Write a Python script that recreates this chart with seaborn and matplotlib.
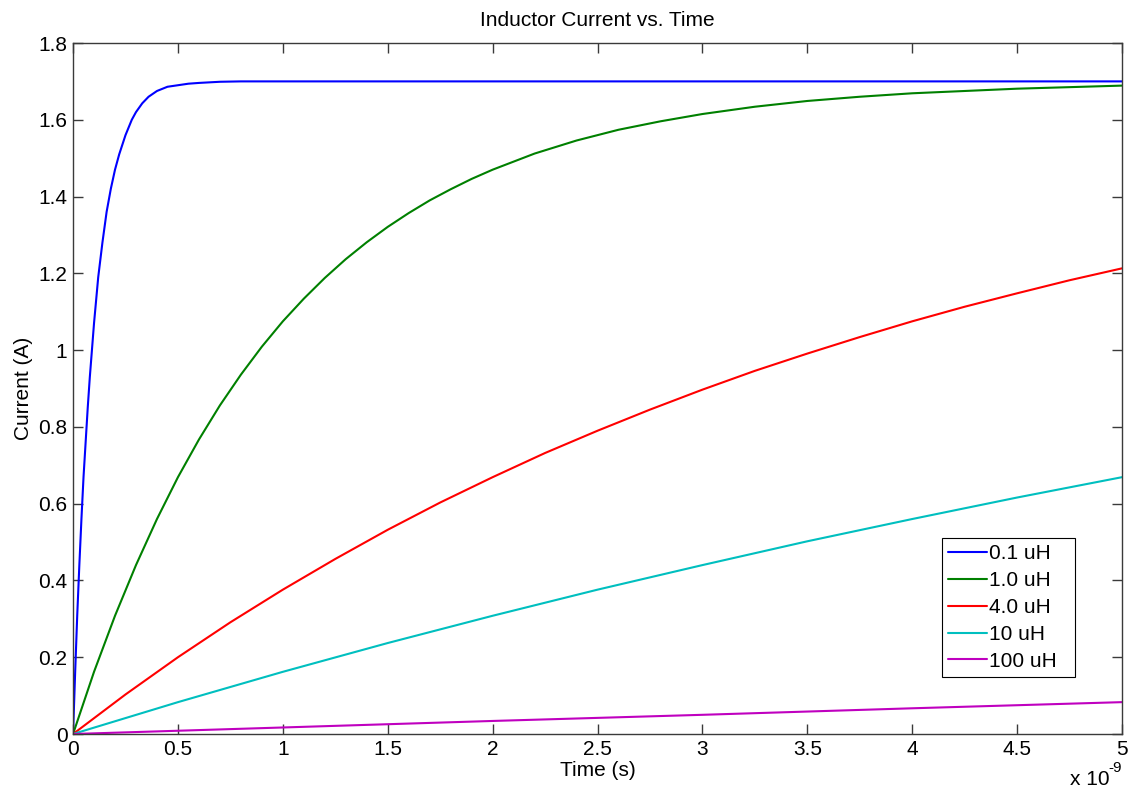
import numpy as np
import pandas as pd
import matplotlib
matplotlib.use("Agg")
import matplotlib.pyplot as plt
import seaborn as sns
from matplotlib.ticker import FuncFormatter, MultipleLocator

# Data (time in ns, current in A)
labels = ["0.1 uH", "1.0 uH", "4.0 uH", "10 uH", "100 uH"]
colors = ["#0000ff", "#008000", "#ff0000", "#00bfbf", "#bf00bf"]

t_01 = [0, 0.01, 0.02, 0.03, 0.04, 0.05, 0.06, 0.07, 0.08, 0.09, 0.1, 0.12, 0.14, 0.16,
        0.18, 0.2, 0.22, 0.25, 0.28, 0.3, 0.33, 0.36, 0.4, 0.45, 0.5, 0.55, 0.6, 0.7,
        0.8, 1.0, 2.0, 3.0, 4.0, 5.0]
i_01 = [0, 0.16, 0.31, 0.44, 0.56, 0.67, 0.76, 0.85, 0.93, 1.00, 1.07, 1.19, 1.28, 1.36,
        1.42, 1.47, 1.51, 1.56, 1.60, 1.62, 1.643, 1.66, 1.675, 1.686, 1.69, 1.694, 1.696, 1.699,
        1.70, 1.70, 1.70, 1.70, 1.70, 1.70]

t_1 = [0, 0.1, 0.2, 0.3, 0.4, 0.5, 0.6, 0.7, 0.8, 0.9, 1.0, 1.1, 1.2, 1.3, 1.4, 1.5,
       1.6, 1.7, 1.8, 1.9, 2.0, 2.2, 2.4, 2.6, 2.8, 3.0, 3.25, 3.5, 3.75, 4.0, 4.5, 5.0]
i_1 = [0, 0.162, 0.308, 0.440, 0.560, 0.669, 0.767, 0.856, 0.936, 1.009, 1.075, 1.134,
       1.188, 1.237, 1.281, 1.321, 1.357, 1.390, 1.419, 1.446, 1.470, 1.512, 1.546, 1.574,
       1.596, 1.615, 1.634, 1.649, 1.660, 1.669, 1.681, 1.689]

t_4 = [0, 0.25, 0.5, 0.75, 1.0, 1.25, 1.5, 1.75, 2.0, 2.25, 2.5, 2.75, 3.0, 3.25, 3.5,
       3.75, 4.0, 4.25, 4.5, 4.75, 5.0]
i_4 = [0, 0.103, 0.200, 0.291, 0.376, 0.456, 0.532, 0.603, 0.669, 0.732, 0.790, 0.845,
       0.897, 0.946, 0.991, 1.034, 1.075, 1.113, 1.148, 1.182, 1.213]

t_10 = [0, 0.5, 1.0, 1.5, 2.0, 2.5, 3.0, 3.5, 4.0, 4.5, 5.0]
i_10 = [0, 0.083, 0.162, 0.237, 0.308, 0.376, 0.44, 0.502, 0.56, 0.616, 0.669]

t_100 = [0, 1.0, 2.0, 3.0, 4.0, 5.0]
i_100 = [0, 0.017, 0.034, 0.050, 0.067, 0.083]

series = [(t_01, i_01), (t_1, i_1), (t_4, i_4), (t_10, i_10), (t_100, i_100)]
frames = []
for lab, (t, i) in zip(labels, series):
    frames.append(pd.DataFrame({"t": t, "I": i, "L": lab}))
df = pd.concat(frames, ignore_index=True)

sns.set_style("white")
plt.rcParams["font.family"] = ["Liberation Sans", "DejaVu Sans"]
plt.rcParams["text.color"] = "black"
plt.rcParams["axes.labelcolor"] = "black"

FS = 15

fig = plt.figure(figsize=(11.29, 7.89), dpi=100)
ax = fig.add_axes([0.0647, 0.0697, 0.9291, 0.8758])

sns.lineplot(data=df, x="t", y="I", hue="L", hue_order=labels,
             palette=dict(zip(labels, colors)), estimator=None, sort=False,
             linewidth=1.5, ax=ax)

ax.set_xlim(0, 5)
ax.set_ylim(0, 1.8)
ax.xaxis.set_major_locator(MultipleLocator(0.5))
ax.yaxis.set_major_locator(MultipleLocator(0.2))
fmt = FuncFormatter(lambda v, p: "%g" % round(v, 6))
ax.xaxis.set_major_formatter(fmt)
ax.yaxis.set_major_formatter(fmt)

edge = "#3a3a3a"
for s in ax.spines.values():
    s.set_visible(True)
    s.set_color(edge)
    s.set_linewidth(1.0)
ax.tick_params(direction="in", length=7, width=1.0, colors=edge,
               labelcolor="black", labelsize=FS, top=True, right=True,
               bottom=True, left=True, pad=4)

ax.set_title("Inductor Current vs. Time", fontsize=FS, pad=12, color="black")
ax.set_xlabel("Time (s)", fontsize=FS, labelpad=2)
ax.set_ylabel("Current (A)", fontsize=FS, labelpad=4)

# exponent label, as in MATLAB
ax.text(0.9886, -0.0738, "x 10", transform=ax.transAxes,
        ha="right", va="baseline", fontsize=FS, color="black")
ax.text(1.0, -0.055, "-9", transform=ax.transAxes,
        ha="right", va="baseline", fontsize=11, color="black")

leg = ax.legend(loc="lower left", bbox_to_anchor=(0.828, 0.0825, 0.127, 0.2025),
                mode="expand", frameon=True, fancybox=False, fontsize=FS,
                handlelength=1.9, handletextpad=0.1, borderpad=0.3,
                labelspacing=0.38, borderaxespad=0)
leg.get_frame().set_edgecolor("black")
leg.get_frame().set_linewidth(0.8)
leg.get_frame().set_alpha(1)
for txt in leg.get_texts():
    txt.set_color("black")
for line in leg.get_lines():
    line.set_linewidth(1.5)

fig.savefig("out.png", dpi=100)
